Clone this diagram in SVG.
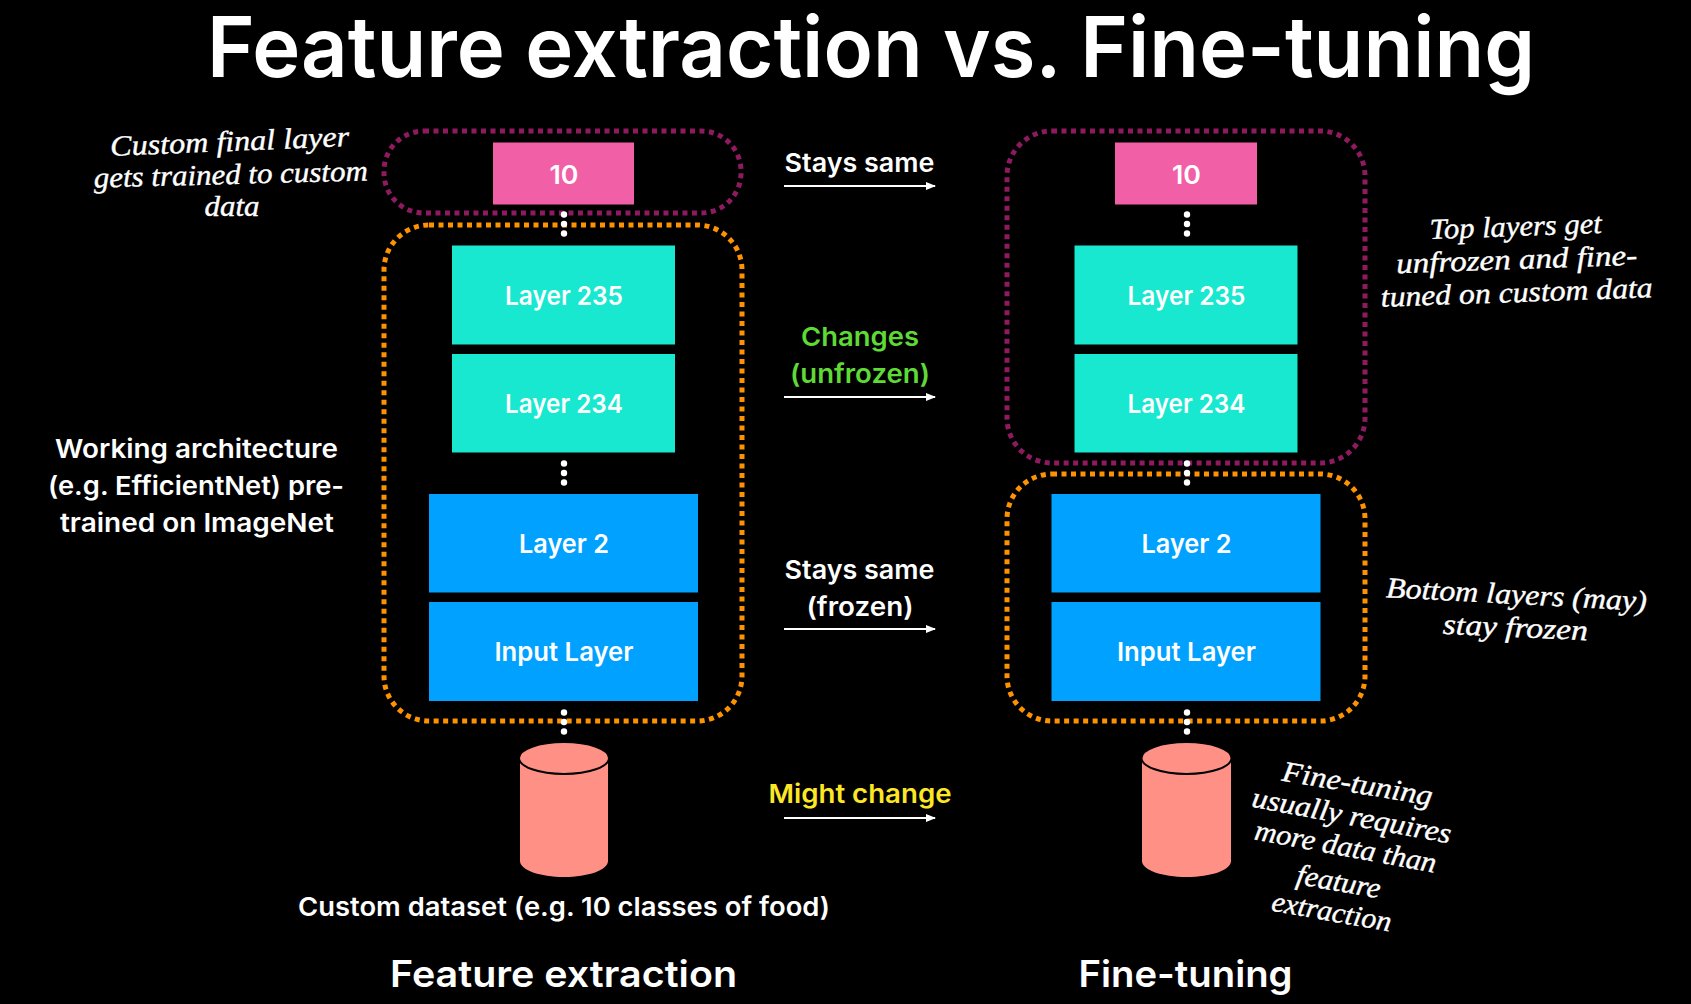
<svg xmlns="http://www.w3.org/2000/svg" width="1691" height="1004" viewBox="0 0 1691 1004">
<style>
text{fill:#fff;text-anchor:middle;font-family:"Inter","Liberation Sans",sans-serif;font-weight:600}
.b{font-size:26px}
.h{font-family:"Liberation Serif",serif;font-style:italic;font-weight:400;font-size:29px;stroke:#fff;stroke-width:.4}
.d{fill:none;stroke-width:5;stroke-dasharray:5 4.5}
.p{stroke:#8f1a5f}.o{stroke:#ff9200}
.pink{fill:#f15fa7}.teal{fill:#17e8cf}.blue{fill:#00a1ff}
.cyl{fill:#ff9086}
.rim{fill:#ff9086;stroke:#000;stroke-width:2}
.dot{fill:#fff}
.arr{stroke:#fff;stroke-width:2;fill:none;marker-end:url(#a)}
</style>
<defs>
<marker id="a" markerUnits="userSpaceOnUse" markerWidth="10" markerHeight="8" refX="9" refY="4" orient="auto"><path d="M0 0L10 4L0 8Z" fill="#fff"/></marker>
<g id="dots"><circle cx="0" cy="-9.500" r="3.200"/><circle cx="0" cy="0" r="3.200"/><circle cx="0" cy="9.500" r="3.200"/></g>
</defs>
<rect width="1691" height="1004" fill="#000"/>
<text id="title" x="871" y="77" font-size="84" textLength="1328" lengthAdjust="spacingAndGlyphs">Feature extraction vs. Fine-tuning</text>

<g id="connectors">
<rect class="d p" x="384" y="131" width="357" height="82" rx="40"/>
<rect class="d o" x="384" y="225" width="358" height="496" rx="45"/>
<rect class="d p" x="1007" y="131" width="358" height="332" rx="45"/>
<rect class="d o" x="1007" y="474" width="358" height="247" rx="45"/>
<g class="dot">
<use href="#dots" x="564" y="224"/><use href="#dots" x="564" y="473"/><use href="#dots" x="564" y="722"/>
<use href="#dots" x="1187" y="224"/><use href="#dots" x="1187" y="473"/><use href="#dots" x="1187" y="722"/>
</g>
<path class="arr" d="M784 186H935"/>
<path class="arr" d="M784 397H935"/>
<path class="arr" d="M784 629H935"/>
<path class="arr" d="M784 818H935"/>
</g>

<g id="fe-output"><rect class="pink" x="493" y="142.500" width="141" height="62"/><text class="b" x="564" y="184" textLength="29" lengthAdjust="spacingAndGlyphs">10</text></g>
<g id="fe-layer235"><rect class="teal" x="452" y="245.500" width="223" height="99"/><text class="b" x="564" y="305" textLength="118" lengthAdjust="spacingAndGlyphs">Layer 235</text></g>
<g id="fe-layer234"><rect class="teal" x="452" y="354" width="223" height="98.500"/><text class="b" x="564" y="413" textLength="118" lengthAdjust="spacingAndGlyphs">Layer 234</text></g>
<g id="fe-layer2"><rect class="blue" x="429" y="494" width="269" height="98.500"/><text class="b" x="564" y="553" textLength="90" lengthAdjust="spacingAndGlyphs">Layer 2</text></g>
<g id="fe-input"><rect class="blue" x="429" y="602" width="269" height="99"/><text class="b" x="564" y="661" textLength="139" lengthAdjust="spacingAndGlyphs">Input Layer</text></g>
<g id="fe-dataset"><path class="cyl" d="M520 758V861C520 870 540 877 564 877S608 870 608 861V758Z"/><ellipse class="rim" cx="564" cy="758" rx="45" ry="16"/></g>

<g id="ft-output"><rect class="pink" x="1115" y="142.500" width="142" height="62"/><text class="b" x="1186.500" y="184" textLength="29" lengthAdjust="spacingAndGlyphs">10</text></g>
<g id="ft-layer235"><rect class="teal" x="1074.500" y="245.500" width="223" height="99"/><text class="b" x="1186.500" y="305" textLength="118" lengthAdjust="spacingAndGlyphs">Layer 235</text></g>
<g id="ft-layer234"><rect class="teal" x="1074.500" y="354" width="223" height="98.500"/><text class="b" x="1186.500" y="413" textLength="118" lengthAdjust="spacingAndGlyphs">Layer 234</text></g>
<g id="ft-layer2"><rect class="blue" x="1051.500" y="494" width="269" height="98.500"/><text class="b" x="1186.500" y="553" textLength="90" lengthAdjust="spacingAndGlyphs">Layer 2</text></g>
<g id="ft-input"><rect class="blue" x="1051.500" y="602" width="269" height="99"/><text class="b" x="1186.500" y="661" textLength="139" lengthAdjust="spacingAndGlyphs">Input Layer</text></g>
<g id="ft-dataset"><path class="cyl" d="M1142 758V861C1142 870 1162 877 1186.500 877S1231 870 1231 861V758Z"/><ellipse class="rim" cx="1186.500" cy="758" rx="45" ry="16"/></g>

<g id="labels">
<text class="b" x="196.500" y="458" textLength="283" lengthAdjust="spacingAndGlyphs">Working architecture</text>
<text class="b" x="196" y="495" textLength="296" lengthAdjust="spacingAndGlyphs">(e.g. EfficientNet) pre-</text>
<text class="b" x="197" y="532" textLength="274" lengthAdjust="spacingAndGlyphs">trained on ImageNet</text>
<text class="b" x="859.500" y="172" textLength="150" lengthAdjust="spacingAndGlyphs">Stays same</text>
<text class="b" x="860" y="346" textLength="118" lengthAdjust="spacingAndGlyphs" style="fill:#5fd936">Changes</text>
<text class="b" x="860" y="383" textLength="140" lengthAdjust="spacingAndGlyphs" style="fill:#5fd936">(unfrozen)</text>
<text class="b" x="859.500" y="579" textLength="150" lengthAdjust="spacingAndGlyphs">Stays same</text>
<text class="b" x="860" y="616" textLength="107" lengthAdjust="spacingAndGlyphs">(frozen)</text>
<text class="b" x="860" y="803" textLength="183" lengthAdjust="spacingAndGlyphs" style="fill:#fde725">Might change</text>
<text class="b" x="564" y="916" textLength="532" lengthAdjust="spacingAndGlyphs">Custom dataset (e.g. 10 classes of food)</text>
<text x="563.500" y="987" font-size="37" textLength="347" lengthAdjust="spacingAndGlyphs">Feature extraction</text>
<text x="1185.500" y="987" font-size="37" textLength="214" lengthAdjust="spacingAndGlyphs">Fine-tuning</text>
</g>

<g id="notes">
<text class="h" transform="translate(230 151) rotate(-2.400)" textLength="239" lengthAdjust="spacingAndGlyphs">Custom final layer</text>
<text class="h" transform="translate(231 184) rotate(-1.500)" textLength="274" lengthAdjust="spacingAndGlyphs">gets trained to custom</text>
<text class="h" transform="translate(232 216)" textLength="55" lengthAdjust="spacingAndGlyphs">data</text>
<text class="h" transform="translate(1516 236) rotate(-2)" textLength="172" lengthAdjust="spacingAndGlyphs">Top layers get</text>
<text class="h" transform="translate(1517 269) rotate(-2)" textLength="241" lengthAdjust="spacingAndGlyphs">unfrozen and fine-</text>
<text class="h" transform="translate(1517 302) rotate(-2)" textLength="272" lengthAdjust="spacingAndGlyphs">tuned on custom data</text>
<text class="h" transform="translate(1516 604) rotate(3)" textLength="261" lengthAdjust="spacingAndGlyphs">Bottom layers (may)</text>
<text class="h" transform="translate(1515 637) rotate(2.500)" textLength="145" lengthAdjust="spacingAndGlyphs">stay frozen</text>
<text class="h" transform="translate(1356 793) rotate(9.500)" textLength="152" lengthAdjust="spacingAndGlyphs">Fine-tuning</text>
<text class="h" transform="translate(1350 825) rotate(10.500)" textLength="202" lengthAdjust="spacingAndGlyphs">usually requires</text>
<text class="h" transform="translate(1344 856) rotate(10.500)" textLength="184" lengthAdjust="spacingAndGlyphs">more data than</text>
<text class="h" transform="translate(1337 891) rotate(10)" textLength="85" lengthAdjust="spacingAndGlyphs">feature</text>
<text class="h" transform="translate(1330 921) rotate(10)" textLength="121" lengthAdjust="spacingAndGlyphs">extraction</text>
</g>
</svg>
